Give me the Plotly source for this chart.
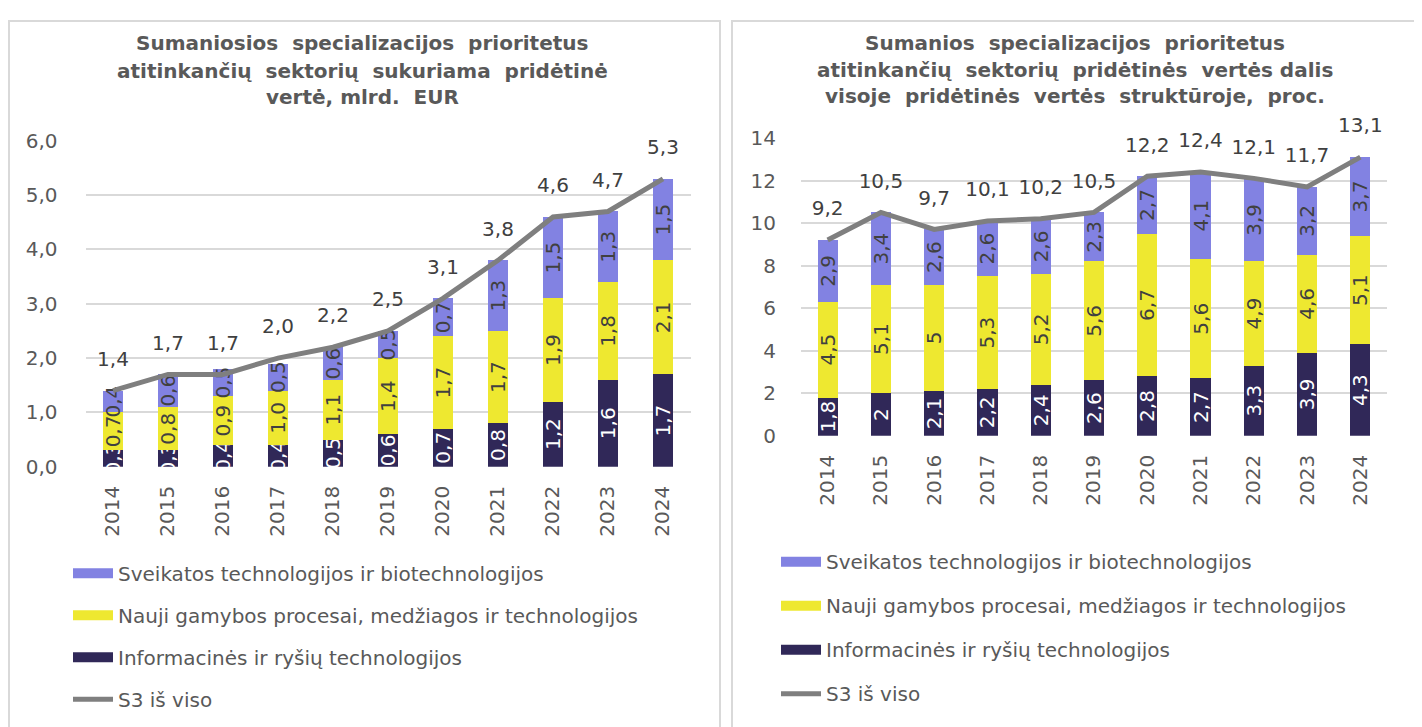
import plotly.graph_objects as go

years = ["2014", "2015", "2016", "2017", "2018", "2019", "2020", "2021", "2022", "2023", "2024"]

# Left chart: value added, bn EUR
ict_eur = [0.3, 0.3, 0.4, 0.4, 0.5, 0.6, 0.7, 0.8, 1.2, 1.6, 1.7]
new_eur = [0.7, 0.8, 0.9, 1.0, 1.1, 1.4, 1.7, 1.7, 1.9, 1.8, 2.1]
health_eur = [0.4, 0.6, 0.5, 0.5, 0.6, 0.5, 0.7, 1.3, 1.5, 1.3, 1.5]
total_eur = [1.4, 1.7, 1.7, 2.0, 2.2, 2.5, 3.1, 3.8, 4.6, 4.7, 5.3]

# Right chart: share of total value added, %
ict_pct = [1.8, 2, 2.1, 2.2, 2.4, 2.6, 2.8, 2.7, 3.3, 3.9, 4.3]
new_pct = [4.5, 5.1, 5, 5.3, 5.2, 5.6, 6.7, 5.6, 4.9, 4.6, 5.1]
health_pct = [2.9, 3.4, 2.6, 2.6, 2.6, 2.3, 2.7, 4.1, 3.9, 3.2, 3.7]
total_pct = [9.2, 10.5, 9.7, 10.1, 10.2, 10.5, 12.2, 12.4, 12.1, 11.7, 13.1]

names = ["Informacinės ir ryšių technologijos",
         "Nauji gamybos procesai, medžiagos ir technologijos",
         "Sveikatos technologijos ir biotechnologijos",
         "S3 iš viso"]
title_left = ["Sumaniosios  specializacijos  prioritetus",
              "atitinkančių  sektorių  sukuriama  pridėtinė",
              "vertė, mlrd.  EUR"]
title_right = ["Sumanios  specializacijos  prioritetus",
               "atitinkančių  sektorių  pridėtinės  vertės dalis",
               "visoje  pridėtinės  vertės  struktūroje,  proc."]

C_DARK = "#302858"
C_YEL = "#EEE830"
C_BLUE = "#8282E2"
C_LINE = "#7F7F7F"
TXT = "#595959"
LBL = "#404040"
FONT = "DejaVu Sans"

def fmt1(v):
    return f"{v:.1f}".replace(".", ",")

def fmtg(v):
    return f"{v:g}".replace(".", ",")

W, H = 1422, 727
OFF = 8  # page body margin

def px(x):
    return (x - OFF) / W

def py(y):
    return 1 - (y - OFF) / H

fig = go.Figure()

def add_panel(xa, ya, legend, ict, new, health, total, fmt):
    series = [(ict, names[0], C_DARK, "white", 3),
              (new, names[1], C_YEL, LBL, 2),
              (health, names[2], C_BLUE, LBL, 1)]
    for vals, nm, col, tcol, rank in series:
        fig.add_trace(go.Bar(
            x=years, y=vals, name=nm, marker=dict(color=col, line=dict(width=0)),
            width=0.38, text=[fmt(v) for v in vals], textposition="inside",
            insidetextanchor="middle", textangle=-90,
            insidetextfont=dict(family=FONT, size=20, color=tcol),
            xaxis=xa, yaxis=ya, showlegend=False, hoverinfo="skip", cliponaxis=False))
        # legend entry drawn as a wide colour swatch
        fig.add_trace(go.Scatter(
            x=[None], y=[None], name=nm, mode="lines", line=dict(color=col, width=12),
            xaxis=xa, yaxis=ya, legend=legend, legendrank=rank,
            legendgroup=legend + nm, hoverinfo="skip"))
    fig.add_trace(go.Scatter(
        x=years, y=total, name=names[3], mode="lines+markers+text",
        line=dict(color=C_LINE, width=5),
        marker=dict(size=30, color="rgba(0,0,0,0)"),
        text=[fmt(v) for v in total],
        textposition="top center", textfont=dict(family=FONT, size=20, color=LBL),
        xaxis=xa, yaxis=ya, legend=legend, legendrank=4,
        legendgroup=legend + names[3], hoverinfo="skip", cliponaxis=False))

add_panel("x", "y", "legend", ict_eur, new_eur, health_eur, total_eur, fmt1)
add_panel("x2", "y2", "legend2", ict_pct, new_pct, health_pct, total_pct, fmtg)

axis_common = dict(showline=False, zeroline=False, ticks="",
                   tickfont=dict(family=FONT, size=20, color=TXT))

legend_common = dict(font=dict(family=FONT, size=20, color=TXT),
                     traceorder="grouped", itemwidth=40,
                     bgcolor="rgba(0,0,0,0)", yanchor="top", xanchor="left",
                     itemclick=False, itemdoubleclick=False)

annotations = []
for lines, cx, ys in [(title_left, 362, [32, 61, 88]), (title_right, 1075, [32, 60, 87])]:
    for line, yy in zip(lines, ys):
        annotations.append(dict(text="<b>" + line + "</b>", x=px(cx), y=py(yy),
                                xref="paper", yref="paper", xanchor="center", yanchor="middle",
                                showarrow=False, font=dict(family=FONT, size=20, color=TXT)))

fig.update_layout(
    width=W, height=H, margin=dict(l=0, r=0, t=0, b=0),
    paper_bgcolor="white", plot_bgcolor="white",
    barmode="stack", separators=", ",
    uniformtext=dict(mode="show", minsize=20),
    font=dict(family=FONT, color=TXT),
    xaxis=dict(domain=[px(85.5), px(690.5)], anchor="y", tickangle=-90, showgrid=False,
               range=[-0.5, 10.5], ticklabelstandoff=14, **axis_common),
    yaxis=dict(domain=[py(470), py(133)], anchor="x", range=[0, 6], dtick=1,
               tickformat=".1f", showgrid=True, gridcolor="#D9D9D9", gridwidth=1.5,
               ticklabelstandoff=27, **axis_common),
    xaxis2=dict(domain=[px(801), px(1387)], anchor="y2", tickangle=-90, showgrid=False,
                range=[-0.5, 10.5], ticklabelstandoff=14, **axis_common),
    yaxis2=dict(domain=[py(438), py(130)], anchor="x2", range=[0, 14], dtick=2,
                tickformat="d", showgrid=True, gridcolor="#D9D9D9", gridwidth=1.5,
                ticklabelstandoff=24, **axis_common),
    legend=dict(x=px(68), y=py(560), tracegroupgap=13, **legend_common),
    legend2=dict(x=px(776), y=py(548), tracegroupgap=15, **legend_common),
    showlegend=True,
    annotations=annotations,
    shapes=[
        dict(type="rect", xref="paper", yref="paper", x0=px(9), x1=px(720), y0=-0.05, y1=py(9),
             line=dict(color="#D9D9D9", width=2), layer="below"),
        dict(type="rect", xref="paper", yref="paper", x0=px(732), x1=px(1416), y0=-0.05, y1=py(9),
             line=dict(color="#D9D9D9", width=2), layer="below"),
    ],
)

fig.write_html("out.html")
